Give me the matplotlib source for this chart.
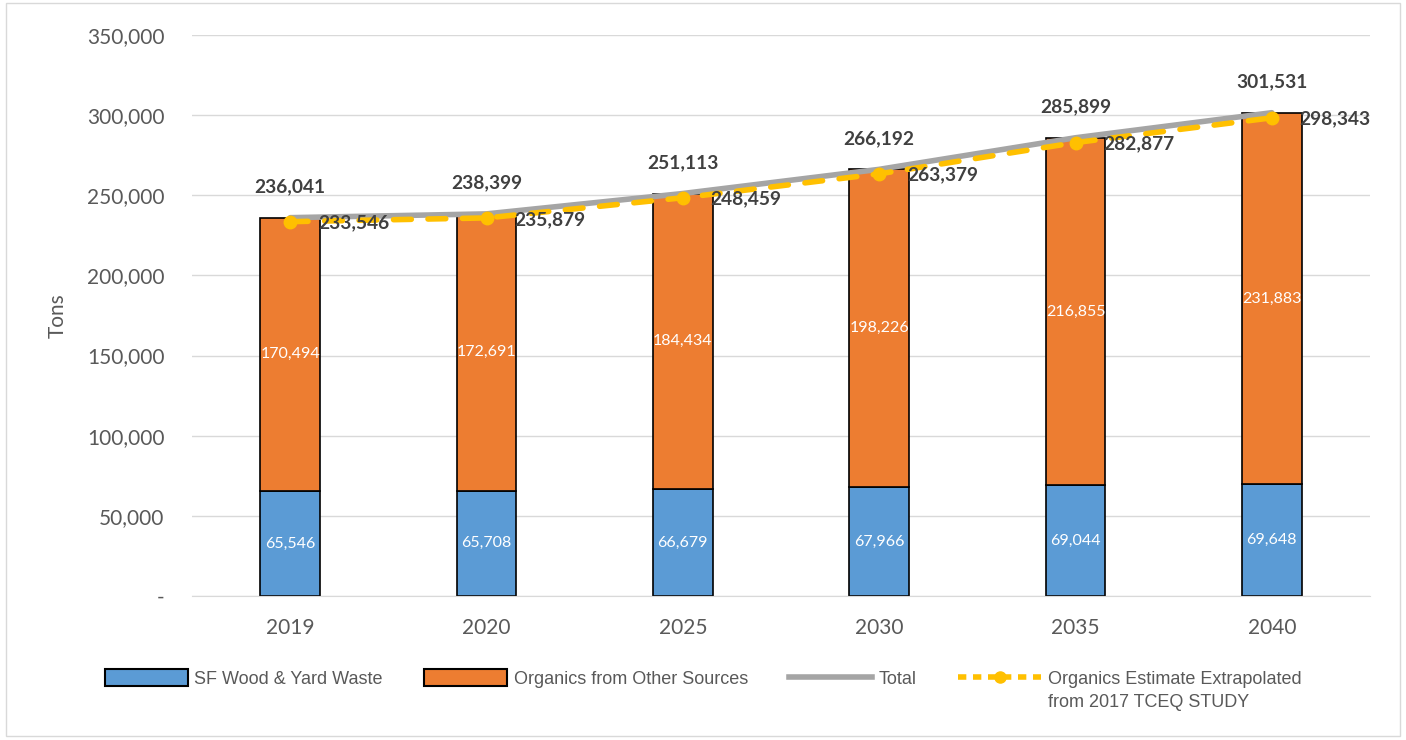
import matplotlib.pyplot as plt
import numpy as np
from matplotlib.patches import Rectangle
from matplotlib.lines import Line2D
from matplotlib.patches import Patch

years = ["2019", "2020", "2025", "2030", "2035", "2040"]
sf_wood_yard = [65546, 65708, 66679, 67966, 69044, 69648]
organics_other = [170494, 172691, 184434, 198226, 216855, 231883]
total = [236041, 238399, 251113, 266192, 285899, 301531]
tceq_estimate = [233546, 235879, 248459, 263379, 282877, 298343]

blue = "#5B9BD5"
orange = "#ED7D31"
grey = "#A5A5A5"
gold = "#FFC000"
txt = "#595959"
dark = "#404040"

plt.rcParams["font.family"] = ["Lato", "DejaVu Sans"]

fig = plt.figure(figsize=(14.06, 7.40), dpi=100)
ax = fig.add_axes([0.1366, 0.1946, 0.8378, 0.7581])

x = np.arange(len(years))
w = 0.305
ax.bar(x, sf_wood_yard, w, color=blue, edgecolor="black", linewidth=1.2, zorder=2)
ax.bar(x, organics_other, w, bottom=sf_wood_yard, color=orange, edgecolor="black",
       linewidth=1.2, zorder=2)
ax.plot(x, total, color=grey, lw=4, zorder=3, solid_capstyle="round")
ax.plot(x, tceq_estimate, color=gold, lw=4, ls=(0, (3.2, 3.0)), marker="o", ms=9,
        zorder=4, dash_capstyle="round")

for i in range(len(years)):
    ax.text(x[i], sf_wood_yard[i] / 2, f"{sf_wood_yard[i]:,}", ha="center", va="center",
            color="white", fontsize=11.5, zorder=5)
    ax.text(x[i], sf_wood_yard[i] + organics_other[i] / 2, f"{organics_other[i]:,}",
            ha="center", va="center", color="white", fontsize=11.5, zorder=5)
    ax.annotate(f"{total[i]:,}", (x[i], total[i]), xytext=(0, 16), textcoords="offset points",
                ha="center", va="bottom", fontsize=13.8, fontweight="bold", color=dark, zorder=5)
    ax.annotate(f"{tceq_estimate[i]:,}", (x[i], tceq_estimate[i]), xytext=(20, -1),
                textcoords="offset points", ha="left", va="center", fontsize=13.8,
                fontweight="bold", color=dark, zorder=5)

ax.set_xlim(-0.5, len(years) - 0.5)
ax.set_ylim(0, 350000)
ax.set_yticks(np.arange(0, 350001, 50000))
ax.set_yticklabels(["-"] + [f"{v:,}" for v in range(50000, 350001, 50000)])
ax.set_xticks(x)
ax.set_xticklabels(years)
ax.tick_params(axis="x", length=0, labelsize=15, colors=txt, pad=16)
ax.tick_params(axis="y", length=0, labelsize=15, colors=txt, pad=20)
ax.grid(axis="y", color="#D9D9D9", lw=1, zorder=0)
for s in ["top", "right", "left"]:
    ax.spines[s].set_visible(False)
ax.spines["bottom"].set_color("#D9D9D9")
ax.set_ylabel("Tons", fontsize=15, color=txt, labelpad=14)

handles = [
    Patch(facecolor=blue, edgecolor="black", linewidth=1.5),
    Patch(facecolor=orange, edgecolor="black", linewidth=1.5),
    Line2D([], [], color=grey, lw=4),
    Line2D([], [], color=gold, lw=4, ls=(0, (1.5, 1.2)), marker="o", ms=8),
]
labels = ["SF Wood & Yard Waste", "Organics from Other Sources", "Total",
          "Organics Estimate Extrapolated"]
leg = fig.legend(handles, labels, loc="center", bbox_to_anchor=(0.5, 0.083), ncol=4,
                 frameon=False, handlelength=4.6, handleheight=1.0, handletextpad=0.35,
                 columnspacing=2.3,
                 prop={"family": ["Liberation Sans", "DejaVu Sans"], "size": 13})
for t in leg.get_texts():
    t.set_color(txt)

fig.canvas.draw()
bb = leg.get_texts()[-1].get_window_extent().transformed(fig.transFigure.inverted())
fig.text(bb.x0, bb.y0 - 0.008, "from 2017 TCEQ STUDY", ha="left", va="top", color=txt,
         family=["Liberation Sans", "DejaVu Sans"], fontsize=13)

fig.add_artist(Rectangle((0.004, 0.006), 0.992, 0.99, transform=fig.transFigure,
                         fill=False, edgecolor="#D9D9D9", lw=1))

fig.savefig("out.png", dpi=100)
